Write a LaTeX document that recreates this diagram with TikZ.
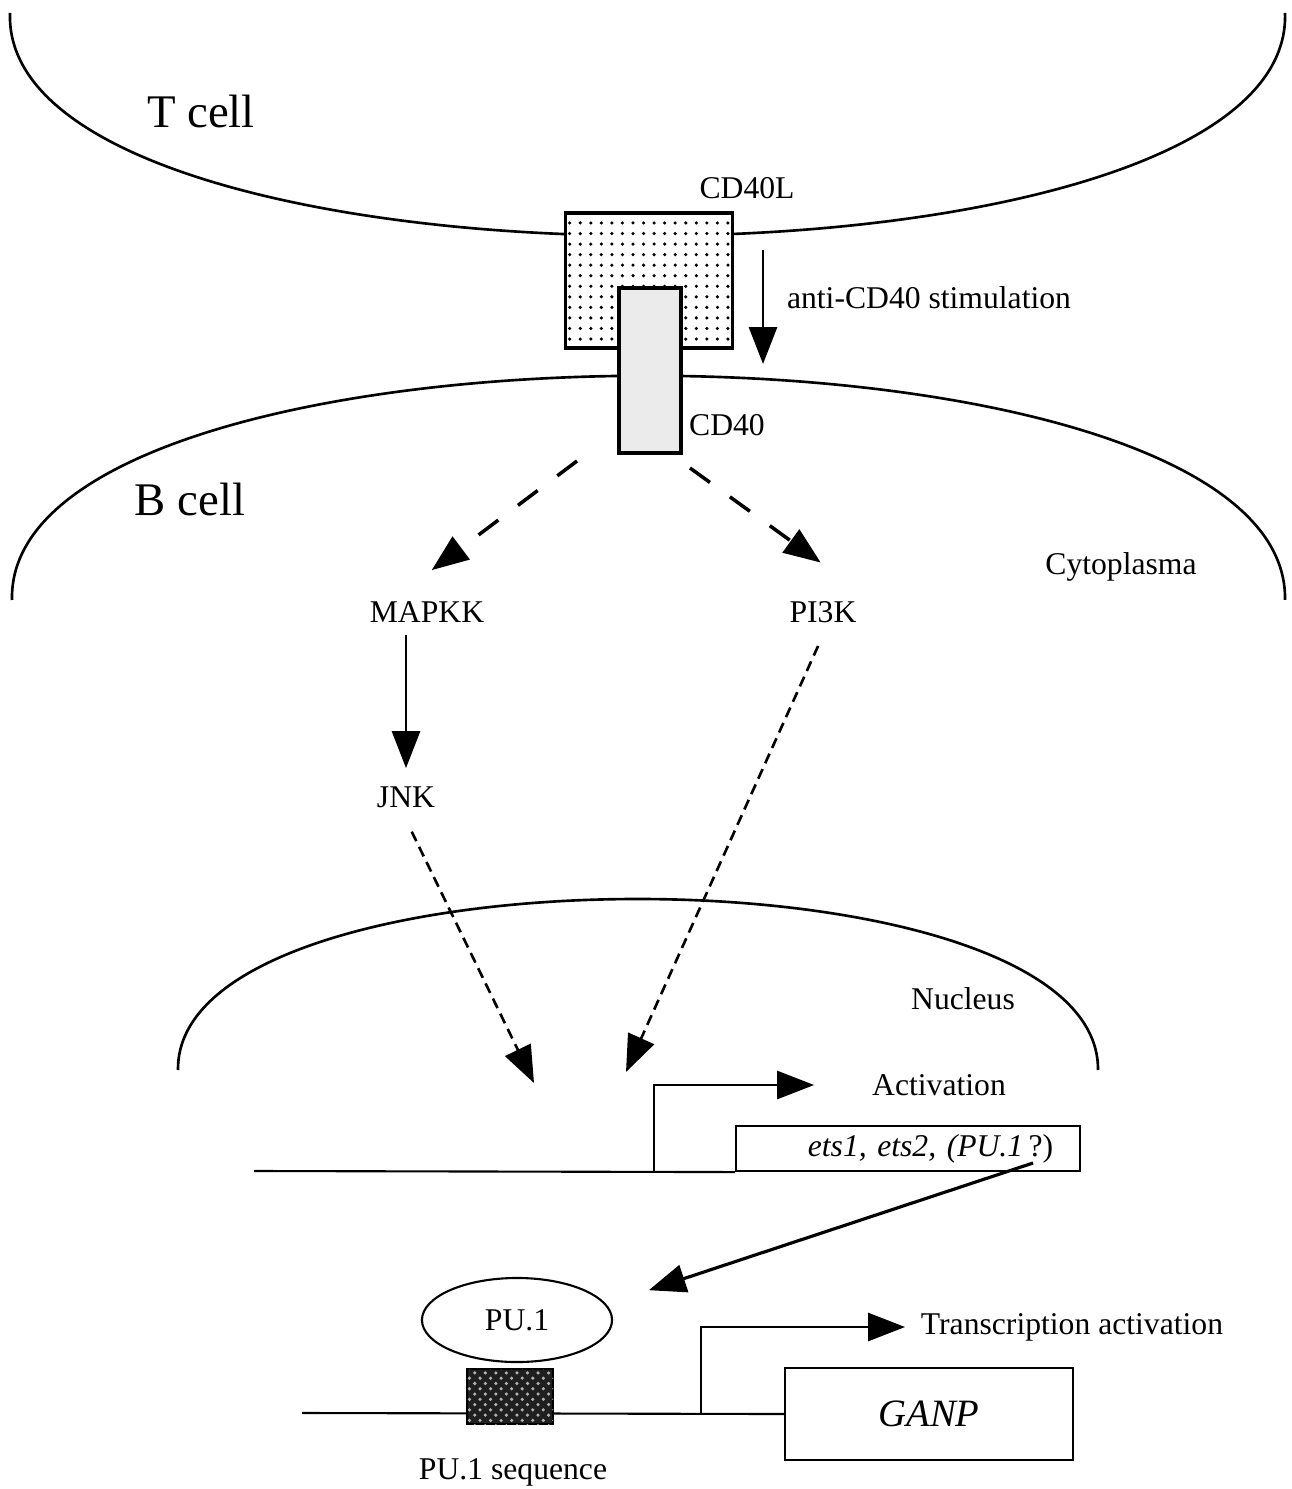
\documentclass[tikz,border=0pt]{standalone}
\usepackage{fontspec}
\setmainfont{Liberation Serif}
\usetikzlibrary{arrows.meta,patterns,shapes.geometric}

\begin{document}
\begin{tikzpicture}[
    x=0.01cm, y=-0.01cm,
    membrane/.style={line width=0.75pt},
    txt/.style={font=\fontsize{9}{11}\selectfont, align=center},
    celltxt/.style={font=\fontsize{13.3}{15}\selectfont},
    ligand/.style={draw, line width=0.9pt, preaction={fill=white}, pattern=dots, minimum width=1.67cm, minimum height=1.35cm, inner sep=0pt},
    receptor/.style={draw, line width=0.9pt, fill=black!8, minimum width=0.62cm, minimum height=1.65cm, inner sep=0pt},
    genebox/.style={draw, line width=0.6pt, fill=white, inner sep=0pt},
    arrow/.style={-{Triangle[length=10.5pt,width=8pt]}, line width=0.65pt},
    signal/.style={arrow, line width=1pt, dash pattern=on 7pt off 7pt},
    weak/.style={arrow, line width=0.75pt, dash pattern=on 3pt off 1.8pt}
]
\useasboundingbox (0,0) rectangle (1291,1489);

% cell membranes and nucleus
\draw[membrane] (10,13) .. controls (0,310) and (1295,310) .. (1285,13);
\draw[membrane] (12,600) .. controls (5,301) and (1290,301) .. (1285,600);
\draw[membrane] (178,1070) .. controls (175,842) and (1100,842) .. (1098,1070);

\node[celltxt] (tcell) at (201,112) {T cell};
\node[celltxt] (bcell) at (190,500) {B cell};
\node[txt] (cyto) at (1121,567) {Cytoplasma};
\node[txt] (nucleus) at (963,999) {Nucleus};

% ligand and receptor
\node[ligand] (cd40l) at (649,280.5) {};
\node[receptor] (cd40) at (650,370.5) {};
\node[txt] (cd40ltxt) at (747,188) {CD40L};
\node[txt] (cd40txt) at (727,425) {CD40};

\coordinate (stim-top) at (763,250);
\coordinate (stim-bot) at (763,364);
\draw[arrow] (stim-top) -- (stim-bot);
\node[txt] (stim) at (929,298) {anti-CD40 stimulation};

% signalling
\node[txt] (mapkk) at (427,612) {MAPKK};
\node[txt] (pi3k) at (823,612) {PI3K};
\node[txt] (jnk) at (406,797) {JNK};

\coordinate (split-l) at (577,461);
\coordinate (split-r) at (690,468);
\draw[signal, shorten >=9pt] (split-l) -- (mapkk.132);
\draw[signal, shorten >=12.8pt] (split-r) -- (pi3k.34);
\draw[arrow, shorten >=1.7pt] (jnk |- mapkk.south) -- (jnk.north);

\coordinate (nuc-l) at (534,1083);
\coordinate (nuc-r) at (626,1072);
\draw[weak, shorten <=3.7pt] (jnk.south) -- (nuc-l);
\draw[weak, shorten <=3.4pt] (pi3k.south) -- (nuc-r);

% ets genes
\coordinate (dna1) at (254,1171);
\coordinate (tss1) at (654,1171);
\node[genebox, minimum height=0.45cm, text width=2.9cm, inner xsep=0.27cm, align=right, font=\fontsize{9}{11}\selectfont] (etsbox) at (908,1148.5) {\itshape ets1, ets2, (PU.1\upshape\,?)};
\draw[line width=0.6pt] (dna1) -- (etsbox.south west);
\node[txt] (act) at (939,1085) {Activation};
\draw[arrow, shorten >=13pt] (tss1) |- (act);

\coordinate (ets-out) at (1033,1163);
\node[draw, ellipse, line width=0.6pt, minimum width=1.9cm, minimum height=0.84cm, inner sep=0pt, txt] (pu1) at (517,1320) {PU.1};
\draw[arrow, line width=0.9pt, shorten >=12.7pt] (ets-out) -- (pu1.10);

% GANP promoter
\coordinate (dna2) at (302,1413);
\coordinate (tss2) at (701,1413);
\node[genebox, minimum width=2.88cm, minimum height=0.92cm, font=\fontsize{11}{13}\selectfont\itshape] (ganp) at (929,1414) {GANP};
\draw[line width=0.6pt] (dna2) -- (ganp.west);
\node[draw, fill=black!88, postaction={pattern=crosshatch dots, pattern color=white!70!black}, minimum width=0.86cm, minimum height=0.55cm, inner sep=0pt] (puseq) at (510,1396.5) {};
\node[txt] (puseqtxt) at (513,1472) {PU.1 sequence};
\node[txt] (trans) at (1072,1327) {Transcription activation};
\draw[arrow, shorten >=1pt] (tss2) |- (trans);

\end{tikzpicture}
\end{document}
